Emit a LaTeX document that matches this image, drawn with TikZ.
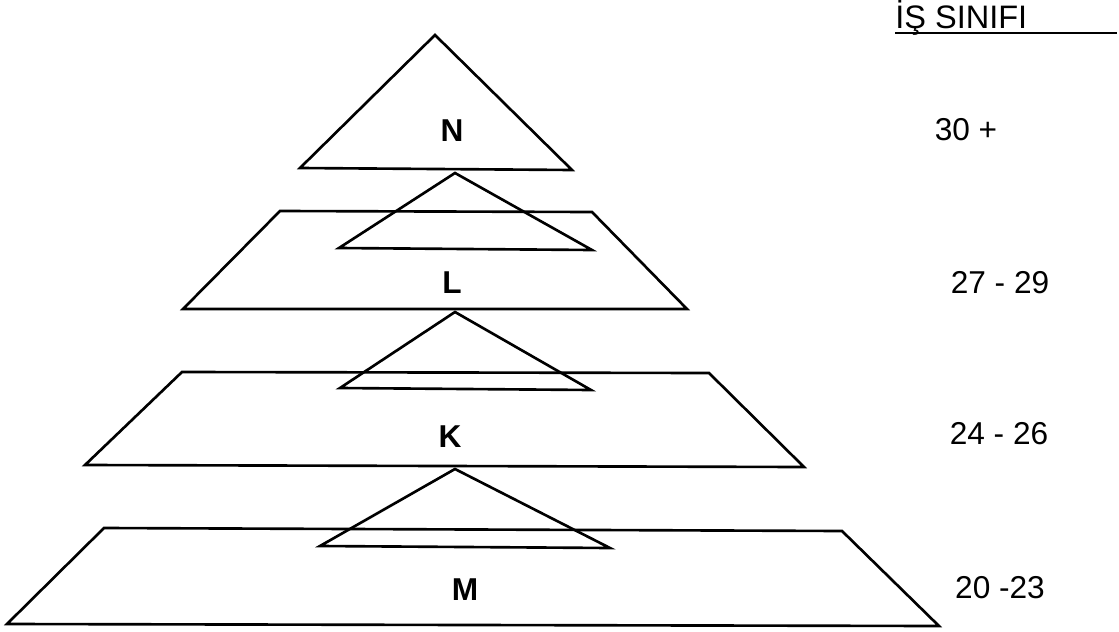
\documentclass[tikz,border=0pt]{standalone}
\usepackage{fontspec}
\setmainfont{Liberation Sans}
\begin{document}
\begin{tikzpicture}[
        x=0.02cm, y=-0.02cm,
        every node/.style = {inner sep=0pt, font=\fontsize{18}{21}\selectfont},
        level/.style = {draw, line width=1.5pt, line join=miter},
        tier/.style = {font=\fontsize{18}{21}\selectfont\bfseries},
        classtext/.style = {font=\fontsize{18}{21}\selectfont}
    ]
    \useasboundingbox (0,0) rectangle (1119,632);

    % Tepe: N
    \draw[level] (435,35) -- (572,170) -- (300,168) -- cycle;
    \node[tier] (N) at (452,131) {N};

    % L katmani
    \draw[level] (455,173) -- (592,250) -- (339,248) -- cycle;
    \draw[level] (280,211) -- (592,212) -- (687,309) -- (183,309) -- cycle;
    \node[tier] (L) at (452,283) {L};

    % K katmani
    \draw[level] (455,312) -- (591,390) -- (340,388) -- cycle;
    \draw[level] (182,372) -- (709,373) -- (804,467) -- (85,465) -- cycle;
    \node[tier] (K) at (450,437) {K};

    % M katmani
    \draw[level] (455,469) -- (610,548) -- (320,546) -- cycle;
    \draw[level] (104,528) -- (842,531) -- (939,626) -- (7,624) -- cycle;
    \node[tier] (M) at (465,590) {M};

    % Is sinifi
    \node[classtext, anchor=base west, font=\fontsize{18.5}{21}\selectfont] (title) at (895,29) {İŞ SINIFI};
    \coordinate (ulA) at (895,33);
    \coordinate (ulB) at (1117,33);
    \draw[line width=1.7pt] (ulA) -- (ulB);

    \node[classtext] (rN) at (966,130) {30 +};
    \node[classtext] (rL) at (1000,283) {27 - 29};
    \node[classtext] (rK) at (999,434) {24 - 26};
    \node[classtext] (rM) at (1000,588) {20 -23};

\end{tikzpicture}
\end{document}
